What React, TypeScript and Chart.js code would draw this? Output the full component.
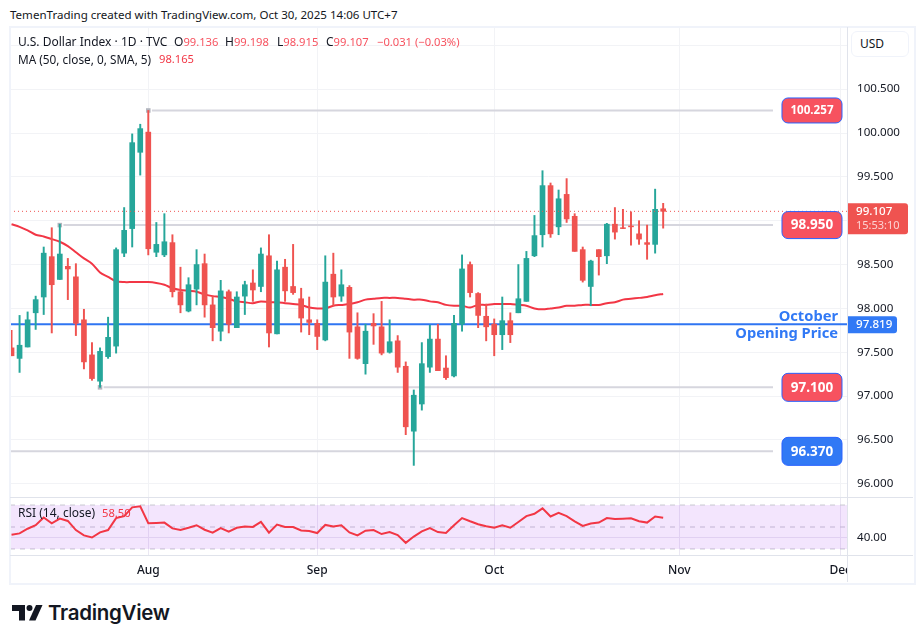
import { useEffect, useRef } from 'react';
import { Chart, registerables } from 'chart.js';

Chart.register(...registerables);

const FONT = '"Noto Sans", sans-serif';
const GREEN = '#26a69a';
const RED = '#ef5350';
const BLUE = '#3179f5';
const GRID = '#f2f3f6';

// daily bars, first one is 17 sessions before Aug 1
const firstBar = -17;
const opens = [97.55, 97.43, 97.56, 97.95, 98.13, 98.59, 98.33, 98.48, 98.36, 97.87, 97.47, 97.17, 97.45, 97.57, 98.63, 98.91, 99.78, 100.01, 98.64, 98.61, 98.75, 98.19, 97.97, 98.22, 98.51, 98.04, 97.74, 98.19, 97.78, 98.14, 98.29, 98.25, 98.60, 97.71, 98.47, 98.25, 98.11, 97.87, 97.83, 97.64, 98.39, 98.14, 98.24, 97.79, 97.37, 97.83, 97.79, 97.50, 97.63, 97.34, 96.60, 96.91, 97.33, 97.65, 97.32, 97.23, 97.82, 98.50, 98.17, 97.91, 97.82, 97.70, 97.86, 97.95, 98.08, 98.60, 98.84, 99.40, 98.93, 99.30, 99.05, 98.67, 98.25, 98.67, 98.60, 98.96, 98.92, 98.94, 98.85, 98.75, 98.73, 99.136];
const highs = [97.75, 97.92, 97.96, 98.14, 98.70, 98.92, 98.96, 98.57, 98.51, 97.99, 97.61, 97.55, 97.90, 98.69, 99.15, 99.99, 100.10, 100.257, 98.98, 99.08, 98.84, 98.47, 98.35, 98.67, 98.62, 98.14, 98.32, 98.21, 98.19, 98.31, 98.44, 98.69, 98.84, 98.54, 98.56, 98.73, 98.23, 98.13, 97.87, 98.60, 98.63, 98.44, 98.26, 97.95, 97.82, 97.94, 98.08, 97.87, 97.69, 97.39, 97.07, 97.61, 97.81, 97.82, 97.46, 97.92, 98.61, 98.53, 98.18, 98.05, 97.88, 98.13, 97.95, 98.50, 98.65, 99.06, 99.57, 99.43, 99.35, 99.48, 99.08, 98.70, 98.55, 98.67, 98.97, 99.15, 99.13, 99.10, 99.00, 98.95, 99.36, 99.198];
const lows = [97.46, 97.27, 97.56, 97.76, 97.93, 97.72, 98.33, 98.10, 97.69, 97.31, 97.18, 97.10, 97.43, 97.49, 98.59, 98.70, 99.52, 98.61, 98.59, 98.59, 98.13, 97.95, 97.96, 98.04, 97.90, 97.63, 97.63, 97.72, 97.78, 97.93, 98.08, 98.19, 97.56, 97.71, 98.08, 98.16, 97.73, 97.70, 97.53, 97.63, 98.03, 98.08, 97.43, 97.42, 97.25, 97.59, 97.47, 97.49, 97.27, 96.56, 96.21, 96.84, 97.27, 97.29, 97.19, 97.22, 97.74, 98.13, 97.78, 97.63, 97.46, 97.53, 97.61, 97.95, 98.08, 98.59, 98.70, 98.81, 98.84, 98.98, 98.65, 98.30, 98.03, 98.38, 98.51, 98.79, 98.91, 98.72, 98.73, 98.56, 98.63, 98.915];
const closes = [97.46, 97.58, 97.87, 98.10, 98.63, 98.27, 98.62, 98.45, 97.83, 97.39, 97.20, 97.51, 97.67, 98.67, 98.89, 99.89, 100.05, 98.68, 98.73, 98.76, 98.19, 98.04, 98.27, 98.50, 98.04, 97.78, 98.20, 97.82, 98.13, 98.27, 98.21, 98.62, 97.72, 98.44, 98.20, 98.18, 97.89, 97.84, 97.68, 98.30, 98.13, 98.27, 97.73, 97.43, 97.74, 97.80, 97.49, 97.62, 97.33, 96.65, 97.01, 97.37, 97.65, 97.29, 97.21, 97.83, 98.45, 98.18, 97.92, 97.79, 97.70, 97.86, 97.70, 98.11, 98.57, 98.83, 99.40, 98.85, 99.25, 99.02, 98.65, 98.32, 98.54, 98.59, 98.96, 98.87, 98.91, 98.93, 98.79, 98.73, 99.13, 99.107];
const ma50 = [98.96, 98.93, 98.89, 98.84, 98.82, 98.79, 98.76, 98.71, 98.64, 98.57, 98.51, 98.41, 98.36, 98.31, 98.30, 98.30, 98.30, 98.30, 98.29, 98.27, 98.23, 98.21, 98.20, 98.19, 98.16, 98.14, 98.13, 98.11, 98.08, 98.07, 98.06, 98.08, 98.07, 98.07, 98.06, 98.05, 98.04, 98.01, 98.00, 98.00, 98.03, 98.04, 98.05, 98.07, 98.10, 98.11, 98.12, 98.12, 98.12, 98.11, 98.10, 98.10, 98.08, 98.07, 98.04, 98.03, 98.03, 98.01, 98.04, 98.04, 98.05, 98.05, 98.05, 98.04, 98.03, 98.00, 97.99, 98.00, 98.01, 98.03, 98.03, 98.04, 98.04, 98.04, 98.06, 98.07, 98.10, 98.11, 98.12, 98.13, 98.15, 98.165];
const rsi = [43.0, 44.2, 48.4, 51.6, 58.7, 53.4, 57.6, 55.5, 47.2, 42.4, 40.4, 45.1, 47.2, 58.1, 59.9, 67.9, 68.8, 53.4, 53.7, 54.0, 48.7, 47.2, 49.3, 51.6, 47.5, 44.8, 49.0, 45.7, 49.3, 50.4, 50.1, 54.6, 44.8, 52.2, 50.1, 49.9, 46.9, 46.3, 44.5, 51.9, 50.4, 51.6, 45.1, 42.4, 46.6, 47.2, 43.6, 45.4, 42.7, 35.6, 41.3, 46.0, 49.0, 45.4, 44.5, 51.6, 58.1, 55.2, 52.5, 50.7, 49.3, 51.6, 49.3, 54.6, 59.9, 62.0, 67.0, 59.6, 62.9, 59.9, 55.2, 51.0, 53.1, 54.0, 58.1, 57.3, 57.6, 57.9, 55.2, 54.0, 59.6, 58.5];

const monthBars = [0, 21, 43, 66, 86];
const monthLabels = ['Aug', 'Sep', 'Oct', 'Nov', 'Dec'];
const priceTicks = [101, 100.5, 100, 99.5, 99, 98.5, 98, 97.5, 97, 96.5, 96];
const hiddenPriceTicks = [101, 99];
const rsiGuides = [70, 50, 30];

// drawn levels: price, bar where the line starts (null = off the left edge)
const levelPrices = [100.257, 98.95, 97.1, 96.37];
const levelStarts = [0, -11, -6, null];
const levelColors = ['#f7525f', '#f7525f', '#f7525f', BLUE];
const levelFontSizes = [11.6, 13.5, 13.5, 13.5];
const levelHeights = [25, 27, 28, 28];
const levelEnd = 77.65;
const octoberOpen = 97.819;
const lastPrice = 99.107;
const countdown = '15:53:10';

const xMin = -17.19;
const xMax = 86.85;
const yMin = 95.8495;
const yMax = 101.2087;
const rsiMin = 24.5;
const rsiMax = 76.4;

const barData = (a: number[], b: number[]) => a.map((v, i) => ({ x: firstBar + i, y: [v, b[i]] }));
const lineData = (values: number[]) => values.map((v, i) => ({ x: firstBar + i, y: v }));
const candleColors = opens.map((o, i) => (closes[i] >= o ? GREEN : RED));

const noPadding = (scale: any) => {
  scale.paddingTop = 0;
  scale.paddingBottom = 0;
  scale.paddingLeft = 0;
  scale.paddingRight = 0;
};

const monthAxis = (showLabels: boolean, gridColor: string) => ({
  type: 'linear',
  offset: false,
  min: xMin,
  max: xMax,
  grid: { color: gridColor, drawTicks: false, offset: false },
  border: { display: false },
  afterBuildTicks: (scale: any) => {
    scale.ticks = monthBars.map((value) => ({ value }));
  },
  afterFit: (scale: any) => {
    noPadding(scale);
    scale.height = showLabels ? 28 : 0;
  },
  ticks: {
    display: showLabels,
    autoSkip: false,
    maxRotation: 0,
    padding: 8,
    color: '#131722',
    font: { family: FONT, size: 12, weight: '500' },
    callback: (value: number) => monthLabels[monthBars.indexOf(value)],
  },
});

// level lines labels, last price and October open tags
const overlayPlugin = {
  id: 'overlay',
  afterDatasetsDraw(chart: any) {
    const { ctx, scales } = chart;
    const y = scales.y;
    const right = chart.chartArea.right;
    const badgeLeft = scales.x.getPixelForValue(levelEnd) + 9;
    ctx.save();

    const lastY = y.getPixelForValue(lastPrice);
    ctx.strokeStyle = RED;
    ctx.lineWidth = 1;
    ctx.setLineDash([1, 3]);
    ctx.beginPath();
    ctx.moveTo(0, lastY);
    ctx.lineTo(right, lastY);
    ctx.stroke();
    ctx.setLineDash([]);

    ctx.textBaseline = 'middle';
    ctx.textAlign = 'center';
    levelPrices.forEach((price, i) => {
      const py = y.getPixelForValue(price);
      const h = levelHeights[i];
      ctx.beginPath();
      ctx.roundRect(badgeLeft, py - h / 2, 60, h, 6);
      ctx.fillStyle = levelColors[i];
      ctx.fill();
      ctx.strokeStyle = '#2962ff';
      ctx.lineWidth = 1;
      ctx.stroke();
      ctx.fillStyle = '#ffffff';
      ctx.font = `bold ${levelFontSizes[i]}px ${FONT}`;
      ctx.fillText(price.toFixed(3), badgeLeft + 30, py + 0.5);
    });

    const openY = y.getPixelForValue(octoberOpen);
    ctx.textAlign = 'right';
    ctx.fillStyle = BLUE;
    ctx.font = `bold 14.7px ${FONT}`;
    ctx.fillText('October', right - 9, openY - 7);
    ctx.fillText('Opening Price', right - 9, openY + 10);

    ctx.textAlign = 'left';
    ctx.beginPath();
    ctx.roundRect(right + 1, openY - 8, 49, 17, [0, 3, 3, 0]);
    ctx.fillStyle = BLUE;
    ctx.fill();
    ctx.fillStyle = '#ffffff';
    ctx.font = `500 11.6px ${FONT}`;
    ctx.fillText(octoberOpen.toFixed(3), right + 9, openY + 0.5);

    ctx.beginPath();
    ctx.roundRect(right + 1, lastY - 8, 60, 31, [0, 3, 3, 0]);
    ctx.fillStyle = RED;
    ctx.fill();
    ctx.fillStyle = '#ffffff';
    ctx.font = `500 11.6px ${FONT}`;
    ctx.fillText(lastPrice.toFixed(3), right + 9, lastY + 0.5);
    ctx.fillStyle = '#fcd3d3';
    ctx.font = `11px ${FONT}`;
    ctx.fillText(countdown, right + 9, lastY + 15);
    ctx.restore();
  },
};

function buildPriceChart(canvas: HTMLCanvasElement) {
  const levelLines = levelPrices.map((price, i) => ({
    type: 'line',
    order: 6,
    data: [
      { x: levelStarts[i] === null ? xMin : (levelStarts[i] as number) + 0.45, y: price },
      { x: levelEnd, y: price },
    ],
    borderColor: '#d6d6de',
    borderWidth: 2,
    pointRadius: 0,
  }));
  const markers = levelPrices
    .map((price, i) => ({ x: levelStarts[i], y: price }))
    .filter((p) => p.x !== null);

  return new Chart(canvas, {
    type: 'bar',
    data: {
      datasets: [
        ...levelLines,
        {
          type: 'line',
          order: 5,
          data: markers,
          showLine: false,
          pointStyle: 'rect',
          pointRadius: 3.2,
          pointBackgroundColor: '#b2b5be',
          pointBorderWidth: 0,
        },
        {
          type: 'line',
          order: 4,
          data: [
            { x: xMin, y: octoberOpen },
            { x: xMax, y: octoberOpen },
          ],
          borderColor: '#2f75f2',
          borderWidth: 2,
          pointRadius: 0,
        },
        {
          type: 'line',
          order: 3,
          data: lineData(ma50),
          borderColor: '#f23645',
          borderWidth: 2,
          pointRadius: 0,
          tension: 0.3,
        },
        {
          order: 2,
          data: barData(lows, highs),
          backgroundColor: candleColors,
          barThickness: 1.3,
          grouped: false,
        },
        {
          order: 1,
          data: barData(opens, closes),
          backgroundColor: candleColors,
          barThickness: 5,
          grouped: false,
        },
      ],
    } as any,
    options: {
      animation: false,
      responsive: false,
      layout: { padding: 0, autoPadding: false },
      plugins: { legend: { display: false }, tooltip: { enabled: false } },
      scales: {
        x: monthAxis(false, GRID),
        y: {
          position: 'right',
          min: yMin,
          max: yMax,
          grid: { color: GRID, drawTicks: false },
          border: { display: false },
          afterBuildTicks: (scale: any) => {
            scale.ticks = priceTicks.map((value) => ({ value }));
          },
          afterFit: (scale: any) => {
            noPadding(scale);
            scale.width = 66;
          },
          ticks: {
            autoSkip: false,
            padding: 10,
            color: '#131722',
            font: { family: FONT, size: 11.6 },
            callback: (value: number) => (hiddenPriceTicks.includes(value) ? '' : value.toFixed(3)),
          },
        },
      },
    } as any,
    plugins: [overlayPlugin],
  } as any);
}

function buildRsiChart(canvas: HTMLCanvasElement) {
  const guide = (value: number, extra = {}) => ({
    type: 'line',
    order: 3,
    data: [
      { x: xMin, y: value },
      { x: xMax, y: value },
    ],
    borderColor: '#c8c8d0',
    borderWidth: 1,
    borderDash: [5, 5],
    pointRadius: 0,
    ...extra,
  });
  return new Chart(canvas, {
    type: 'line',
    data: {
      datasets: [
        guide(rsiGuides[0], { fill: { target: { value: rsiGuides[2] } }, backgroundColor: 'rgba(135, 0, 235, 0.1)' }),
        guide(rsiGuides[1]),
        guide(rsiGuides[2]),
        {
          order: 1,
          data: lineData(rsi),
          borderColor: '#f23645',
          borderWidth: 2,
          pointRadius: 0,
        },
      ],
    } as any,
    options: {
      animation: false,
      responsive: false,
      layout: { padding: 0, autoPadding: false },
      plugins: { legend: { display: false }, tooltip: { enabled: false } },
      scales: {
        x: monthAxis(true, '#ebe8f3'),
        y: {
          position: 'right',
          min: rsiMin,
          max: rsiMax,
          grid: { color: '#ebe8f3', drawTicks: false },
          border: { display: false },
          afterBuildTicks: (scale: any) => {
            scale.ticks = [{ value: 40 }];
          },
          afterFit: (scale: any) => {
            noPadding(scale);
            scale.width = 66;
          },
          ticks: {
            padding: 10,
            color: '#131722',
            font: { family: FONT, size: 11.6 },
            callback: (value: number) => value.toFixed(2),
          },
        },
      },
    } as any,
  } as any);
}

const box = (left: number, top: number, width: number, height: number, background: string) => ({
  position: 'absolute' as const,
  left,
  top,
  width,
  height,
  background,
});

const legendText = (left: number, top: number, color = '#131722', size = 12) => ({
  position: 'absolute' as const,
  left,
  top,
  color,
  fontSize: size,
  lineHeight: '16px',
  whiteSpace: 'pre' as const,
});

const valueSpan = { color: '#f7525f', fontSize: 11.2 };

export default function App() {
  const priceRef = useRef<HTMLCanvasElement>(null);
  const rsiRef = useRef<HTMLCanvasElement>(null);

  useEffect(() => {
    const priceChart = buildPriceChart(priceRef.current!);
    const rsiChart = buildRsiChart(rsiRef.current!);
    return () => {
      priceChart.destroy();
      rsiChart.destroy();
    };
  }, []);

  return (
    <div style={{ position: 'relative', width: 923, height: 643, overflow: 'hidden', background: '#fff', fontFamily: FONT }}>
      <style>{'body{margin:0}'}</style>
      <div style={legendText(10, 7, '#131722', 11.55)}>TemenTrading created with TradingView.com, Oct 30, 2025 14:06 UTC+7</div>
      <canvas ref={priceRef} width={903} height={470} style={{ position: 'absolute', left: 10, top: 27, width: 903, height: 470 }} />
      <canvas ref={rsiRef} width={903} height={85} style={{ position: 'absolute', left: 10, top: 498, width: 903, height: 85 }} />

      {/* frame and pane separators */}
      <div style={{ position: 'absolute', left: 9, top: 26, width: 903, height: 555, border: '2px solid #f0f3fa', boxSizing: 'content-box' }} />
      <div style={box(848, 556, 63, 25, '#fff')} />
      <div style={box(847, 27, 1, 555, '#e0e3eb')} />
      <div style={box(10, 497, 903, 1, '#e0e3eb')} />
      <div style={box(10, 555, 903, 1, '#e0e3eb')} />

      <div style={{ position: 'absolute', left: 851, top: 31, width: 58, height: 26, boxSizing: 'border-box', border: '1.5px solid #f0f3fa', borderRadius: 6, background: '#fff', color: '#131722', fontSize: 12, lineHeight: '23px', paddingLeft: 8 }}>USD</div>

      <div style={legendText(18, 34)}>U.S. Dollar Index · 1D · TVC</div>
      <div style={legendText(174, 34)}>O<span style={valueSpan}>99.136</span></div>
      <div style={legendText(225, 34)}>H<span style={valueSpan}>99.198</span></div>
      <div style={legendText(277, 34)}>L<span style={valueSpan}>98.915</span></div>
      <div style={legendText(326, 34)}>C<span style={valueSpan}>99.107</span></div>
      <div style={legendText(377, 34, '#f7525f', 11.2)}>−0.031 (−0.03%)</div>
      <div style={legendText(18, 51, '#131722', 11.8)}>MA (50, close, 0, SMA, 5)</div>
      <div style={legendText(159, 51, '#f23645', 11.2)}>98.165</div>
      <div style={legendText(18, 505)}>RSI (14, close)</div>
      <div style={legendText(102, 505, '#f23645', 11.2)}>58.50</div>

      {/* logo */}
      <svg style={{ position: 'absolute', left: 12, top: 605 }} width={31} height={16} viewBox="0 0 31 16">
        <path d="M0 0H13V15.500H7V6H0Z" fill="#131722" />
        <circle cx="17.500" cy="3" r="3" fill="#131722" />
        <path d="M24 0H30.500L23.500 15.500H17Z" fill="#131722" />
      </svg>
      <div style={{ position: 'absolute', left: 48, top: 599, color: '#131722', fontFamily: 'Inter, sans-serif', fontSize: 20.500, fontWeight: 600, lineHeight: '28px', letterSpacing: -0.3 }}>TradingView</div>
    </div>
  );
}
